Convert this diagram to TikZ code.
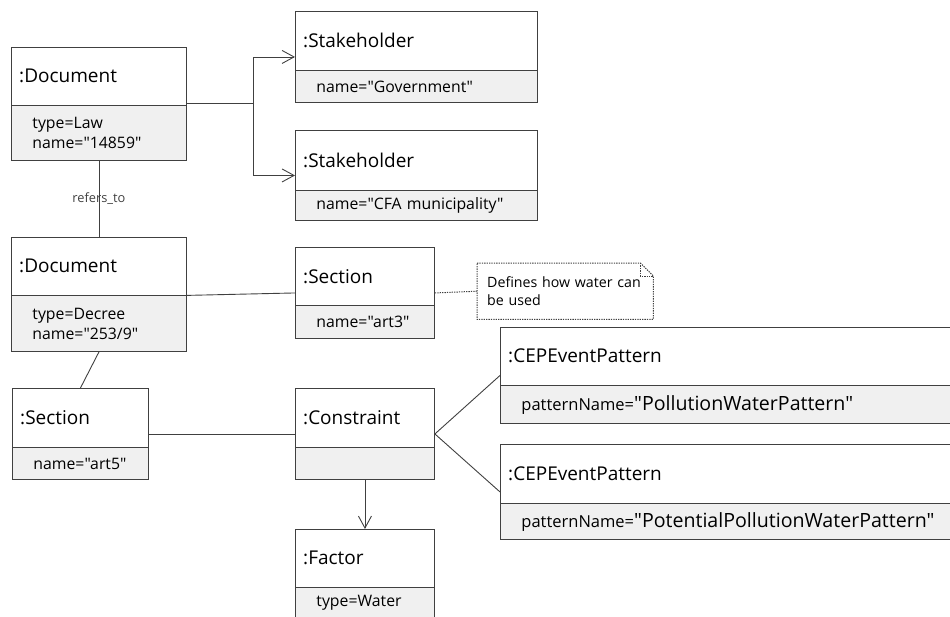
\documentclass[tikz,border=0pt]{standalone}
\usepackage{fontspec}
\setmainfont{Open Sans}[Ligatures=TeXOff]
\usetikzlibrary{arrows.meta}
\definecolor{edge}{HTML}{404040}
\definecolor{attrfill}{HTML}{F0F0F0}
\newcommand\titlefont{\fontsize{19}{22}\selectfont}
\newcommand\attrfont{\fontsize{15.8}{20}\selectfont}
\newcommand\prefont{\fontsize{16.5}{20}\selectfont}
\newcommand\valfont{\fontsize{19.6}{20}\selectfont}
\newcommand\dq{"}
% name, x, y, width, title height, attr height, title, attrs
\newcommand\umlobj[8]{%
  \pgfmathsetmacro\objH{#5+#6}%
  \pgfmathsetmacro\objTW{#4-16}%
  \pgfmathsetmacro\objAW{#4-42}%
  \node[objbox, minimum width=#4pt, minimum height=\objH pt, anchor=north west] (#1) at (#2,#3) {};
  \node[titlebox, text width=\objTW pt, minimum height=#5pt, anchor=north west] (#1t) at (#2,#3) {#7};
  \node[attrbox, text width=\objAW pt, minimum height=#6pt, anchor=north west] (#1a) at (#1t.south west) {#8};
}
\begin{document}
\begin{tikzpicture}[x=1pt,y=-1pt,
  objbox/.style={draw=edge, fill=white, line width=0.9pt, rectangle, inner sep=0pt},
  attrbox/.style={draw=edge, fill=attrfill, line width=0.9pt, rectangle, inner ysep=0pt, inner xsep=21pt, align=left, font=\attrfont},
  titlebox/.style={rectangle, inner ysep=0pt, inner xsep=8pt, align=left, font=\titlefont},
  assoc/.style={draw=edge, line width=0.9pt},
  arr/.style={assoc, -{Straight Barb[length=12pt,width=13pt,line width=0.9pt]}},
  notedots/.style={draw=edge, line width=1pt, dash pattern=on 1.3pt off 1.1pt},
  notebox/.style={rectangle, inner ysep=0pt, inner xsep=10pt, align=left, font=\fontsize{14.2}{18}\selectfont, minimum width=176pt, minimum height=56pt, text width=156pt},
  lbl/.style={font=\fontsize{12.8}{13}\selectfont, text=edge, inner sep=1pt}]
\useasboundingbox (0,0) rectangle (950,616);

\umlobj{doc1}{11}{47}{175}{58}{55}{:Document}{type=Law\\name=\dq14859\dq}
\umlobj{st1}{295}{11}{242}{59}{32}{:Stakeholder}{name=\dq Government\dq}
\umlobj{st2}{295}{130}{242}{60}{30}{:Stakeholder}{name=\dq CFA municipality\dq}
\umlobj{doc2}{11}{237}{175}{58}{56}{:Document}{type=Decree\\name=\dq253/9\dq}
\umlobj{sec3}{295}{247}{139}{58}{33}{:Section}{name=\dq art3\dq}
\umlobj{sec5}{12}{388}{136}{59}{32}{:Section}{name=\dq art5\dq}
\umlobj{con}{295}{388}{139}{59}{32}{:Constraint}{}
\umlobj{fac}{295}{529}{139}{58}{30}{:Factor}{type=Water}
\umlobj{cep1}{500}{327}{452}{58}{38}{:CEPEventPattern}{{\prefont patternName=}{\valfont\dq PollutionWaterPattern\dq}}
\umlobj{cep2}{500}{444}{452}{59}{36}{:CEPEventPattern}{{\prefont patternName=}{\valfont\dq PotentialPollutionWaterPattern\dq}}

\node[notebox, anchor=north west] (note) at (477,263) {Defines how water can\\be used};
\draw[notedots] (note.north west) -- ([xshift=-13pt]note.north east) -- ([yshift=-13pt]note.north east) -- (note.south east) -- (note.south west) -- cycle;
\draw[notedots] ([xshift=-13pt]note.north east) -- ([xshift=-13pt,yshift=-13pt]note.north east) -- ([yshift=-13pt]note.north east);

\draw[arr] ([yshift=2pt]doc1t.south east) -- ++(67,0) |- (st1.west);
\draw[arr] ([yshift=2pt]doc1t.south east) -- ++(67,0) |- (st2.west);
\draw[assoc] (doc1.south) -- node[lbl] {refers\_to} (doc2.north);
\draw[assoc] (doc2t.south east) -- (sec3.west);
\draw[assoc] (doc2.south) -- (sec5.north);
\draw[notedots] (sec3.east) -- (note.west);
\draw[assoc] (sec5.east) -- (con.west);
\draw[assoc] (cep1.west) -- (con.east) -- (cep2.west);
\draw[arr] (con.south) -- (fac.north);
\end{tikzpicture}
\end{document}
